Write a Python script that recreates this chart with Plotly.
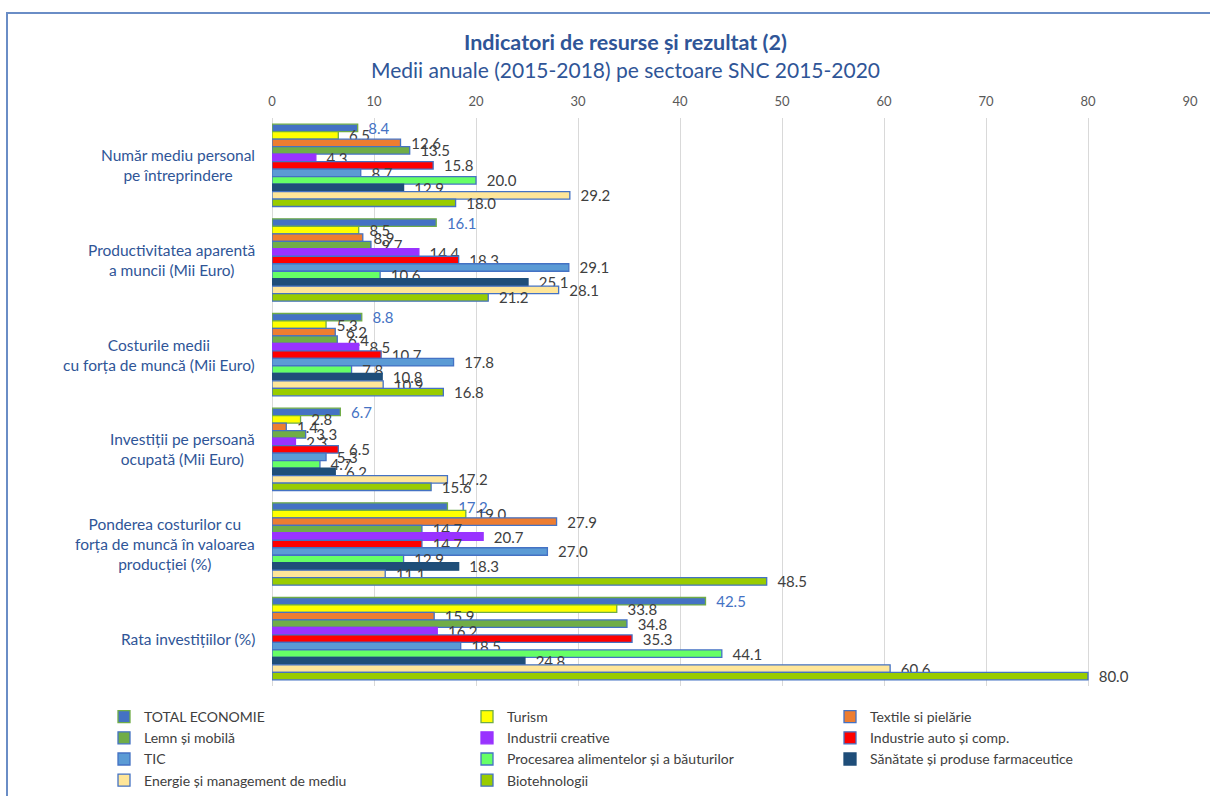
import plotly.graph_objects as go

categories = [
    "Număr mediu personal<br>pe întreprindere",
    "Productivitatea aparentă<br>a muncii (Mii Euro)",
    "Costurile medii<br>cu forța de muncă (Mii Euro)",
    "Investiții pe persoană<br>ocupată (Mii Euro)",
    "Ponderea costurilor cu<br>forța de muncă în valoarea<br>producției (%)",
    "Rata investițiilor (%)",
]

series_names = [
    "TOTAL ECONOMIE", "Turism", "Textile si pielărie", "Lemn și mobilă",
    "Industrii creative", "Industrie auto și comp.", "TIC",
    "Procesarea alimentelor și a băuturilor", "Sănătate și produse farmaceutice",
    "Energie și management de mediu", "Biotehnologii",
]

total_economie = [8.4, 16.1, 8.8, 6.7, 17.2, 42.5]
turism = [6.5, 8.5, 5.3, 2.8, 19.0, 33.8]
textile = [12.6, 8.9, 6.2, 1.4, 27.9, 15.9]
lemn = [13.5, 9.7, 6.4, 3.3, 14.7, 34.8]
industrii_creative = [4.3, 14.4, 8.5, 2.3, 20.7, 16.2]
industrie_auto = [15.8, 18.3, 10.7, 6.5, 14.7, 35.3]
tic = [8.7, 29.1, 17.8, 5.3, 27.0, 18.5]
procesarea = [20.0, 10.6, 7.8, 4.7, 12.9, 44.1]
sanatate = [12.9, 25.1, 10.8, 6.2, 18.3, 24.8]
energie = [29.2, 28.1, 10.9, 17.2, 11.1, 60.6]
biotehnologii = [18.0, 21.2, 16.8, 15.6, 48.5, 80.0]

series_values = [total_economie, turism, textile, lemn, industrii_creative,
                 industrie_auto, tic, procesarea, sanatate, energie, biotehnologii]

x_ticks = [0, 10, 20, 30, 40, 50, 60, 70, 80, 90]

fills = ["#4472C4", "#FFFF00", "#ED7D31", "#70AD47", "#9933FF", "#FF0000",
         "#5B9BD5", "#66FF66", "#1F4E79", "#FFE699", "#99CC00"]
borders = ["#70AD47", "#70AD47", "#4472C4", "#4472C4", "#9933FF", "#4472C4",
           "#4472C4", "#4472C4", "#1F4E79", "#4472C4", "#4472C4"]
label_colors = ["#4472C4"] + ["#404040"] * 10

FONT = "Lato"
W, H = 1210, 796
ML, MR, MT, MB = 272, 20, 118, 110
PW = W - ML - MR
PH = H - MT - MB

fig = go.Figure()
for name, vals, fc, bc, lc in zip(series_names, series_values, fills, borders, label_colors):
    fig.add_trace(go.Bar(
        y=categories, x=vals, name=name, orientation="h",
        marker=dict(color=fc, line=dict(color=bc, width=1.3)),
        text=["  " + f"{v:.1f}" for v in vals],
        textposition="outside", constraintext="none", cliponaxis=False,
        textfont=dict(family=FONT, size=15, color=lc),
    ))

for c in categories:
    fig.add_annotation(
        x=(257 - ML) / PW, xref="paper", y=c, yref="y",
        text=c, showarrow=False, xanchor="right", align="center",
        font=dict(family=FONT, size=15.5, color="#2F5597"),
    )

title_x = (625 - ML) / PW
fig.add_annotation(x=title_x, xref="paper", y=(MT + PH - 42) / PH, yref="paper",
                   text="<b>Indicatori de resurse și rezultat (2)</b>", showarrow=False,
                   xanchor="center", yanchor="middle",
                   font=dict(family=FONT, size=21.5, color="#2F5597"))
fig.add_annotation(x=title_x, xref="paper", y=(MT + PH - 70) / PH, yref="paper",
                   text="Medii anuale (2015-2018) pe sectoare SNC 2015-2020", showarrow=False,
                   xanchor="center", yanchor="middle",
                   font=dict(family=FONT, size=21, color="#2F5597"))

# outer border of chart area
fig.add_shape(type="rect", xref="paper", yref="paper",
              x0=(7 - ML) / PW, x1=(W + 10 - ML) / PW,
              y0=(MT + PH - (H + 10)) / PH, y1=(MT + PH - 13) / PH,
              line=dict(color="#6A8DC6", width=2), fillcolor="rgba(0,0,0,0)")

fig.update_layout(
    width=W, height=H,
    margin=dict(l=ML, r=MR, t=MT, b=MB, autoexpand=False),
    paper_bgcolor="white", plot_bgcolor="white",
    barmode="group", bargap=0.13, bargroupgap=0,
    font=dict(family=FONT, color="#404040"),
    showlegend=True,
    legend=dict(
        orientation="h", x=(104 - ML) / PW, xanchor="left",
        y=-(701 - (MT + PH)) / PH, yanchor="top",
        entrywidth=318, entrywidthmode="pixels",
        font=dict(family=FONT, size=14, color="#404040"),
        traceorder="normal", itemwidth=30,
        bgcolor="rgba(0,0,0,0)",
    ),
)
fig.update_xaxes(
    range=[0, 90], tickvals=x_ticks, side="top",
    showgrid=True, gridcolor="#D9D9D9", gridwidth=1,
    zeroline=True, zerolinecolor="#D9D9D9", zerolinewidth=1,
    tickfont=dict(family=FONT, size=13, color="#595959"),
    ticks="", showline=False, ticklabelstandoff=8,
)
fig.update_yaxes(
    autorange="reversed", showticklabels=False, showgrid=False,
    zeroline=False, showline=False, ticks="",
)

fig.write_html("out.html")
